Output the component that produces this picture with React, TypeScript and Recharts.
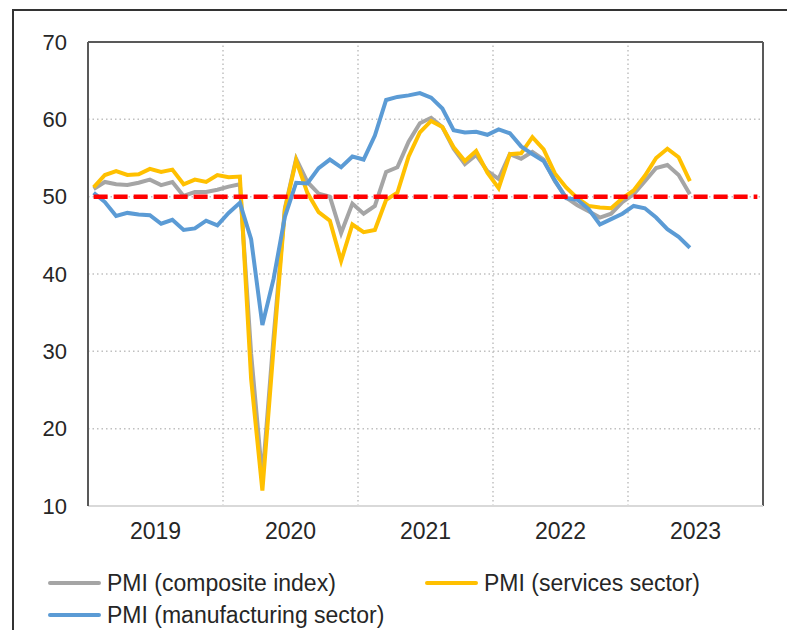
import React from 'react';
import {
  LineChart,
  Line,
  XAxis,
  YAxis,
  CartesianGrid,
  ReferenceLine,
  Legend,
} from 'recharts';

// Euro area PMI, monthly, Jan 2019 - Jun 2023
const years = ['2019', '2020', '2021', '2022', '2023'];

const composite = [
  51.0, 51.9, 51.6, 51.5, 51.8, 52.2, 51.5, 51.9, 50.1, 50.6, 50.6, 50.9,
  51.3, 51.6, 29.7, 13.6, 31.9, 48.5, 54.9, 51.9, 50.4, 50.0, 45.3, 49.1,
  47.8, 48.8, 53.2, 53.8, 57.1, 59.5, 60.2, 59.0, 56.2, 54.2, 55.4, 53.3,
  52.3, 55.5, 54.9, 55.8, 54.8, 52.0, 49.9, 48.9, 48.1, 47.3, 47.8, 49.3,
  50.3, 52.0, 53.7, 54.1, 52.8, 50.3,
];

const services = [
  51.2, 52.8, 53.3, 52.8, 52.9, 53.6, 53.2, 53.5, 51.6, 52.2, 51.9, 52.8,
  52.5, 52.6, 26.4, 12.0, 30.5, 48.3, 54.7, 50.5, 48.0, 46.9, 41.7, 46.4,
  45.4, 45.7, 49.6, 50.5, 55.2, 58.3, 59.8, 59.0, 56.4, 54.6, 55.9, 53.1,
  51.1, 55.5, 55.6, 57.7, 56.1, 53.0, 51.2, 49.8, 48.8, 48.6, 48.5, 49.8,
  50.8, 52.7, 55.0, 56.2, 55.1, 52.0,
];

const manufacturing = [
  50.5, 49.3, 47.5, 47.9, 47.7, 47.6, 46.5, 47.0, 45.7, 45.9, 46.9, 46.3,
  47.9, 49.2, 44.5, 33.4, 39.4, 47.4, 51.8, 51.7, 53.7, 54.8, 53.8, 55.2,
  54.8, 57.9, 62.5, 62.9, 63.1, 63.4, 62.8, 61.4, 58.6, 58.3, 58.4, 58.0,
  58.7, 58.2, 56.5, 55.5, 54.6, 52.1, 49.8, 49.6, 48.4, 46.4, 47.1, 47.8,
  48.8, 48.5, 47.3, 45.8, 44.8, 43.4,
];

const THRESHOLD = 50;
const yTicks = [10, 20, 30, 40, 50, 60, 70];

const series = [
  { key: 'composite', name: 'PMI (composite index)', color: '#a5a5a5' },
  { key: 'services', name: 'PMI (services sector)', color: '#ffc000' },
  { key: 'manufacturing', name: 'PMI (manufacturing sector)', color: '#5b9bd5' },
];

const rows = Array.from({ length: years.length * 12 }, (_, i) => ({
  x: i + 0.5,
  composite: composite[i] ?? null,
  services: services[i] ?? null,
  manufacturing: manufacturing[i] ?? null,
  threshold: THRESHOLD,
}));

const xMax = years.length * 12;
const yearCenters = years.map((_, k) => k * 12 + 6);
const yearBounds = years.slice(1).map((_, k) => (k + 1) * 12);

const FONT = '"Liberation Sans", Arial, sans-serif';
const TEXT = '#262626';
const FRAME = '#595959';
const GRID = '#c0c0c0';

const LegendBox = () => (
  <div
    style={{
      width: 787,
      display: 'grid',
      gridTemplateColumns: '377px auto',
      paddingLeft: 48,
      boxSizing: 'border-box',
      fontFamily: FONT,
      fontSize: 23,
      color: TEXT,
    }}
  >
    {series.map(s => (
      <div key={s.key} style={{ display: 'flex', alignItems: 'center', height: 32 }}>
        <span
          style={{
            display: 'inline-block',
            width: 53,
            height: 4,
            borderRadius: 2,
            background: s.color,
            marginRight: 6,
          }}
        />
        <span style={{ whiteSpace: 'nowrap' }}>{s.name}</span>
      </div>
    ))}
  </div>
);

const App: React.FC = () => {
  return (
    <div
      style={{
        position: 'absolute',
        left: 0,
        top: 0,
        width: 787,
        height: 630,
        overflow: 'hidden',
        background: '#fff',
      }}
    >
      <div
        style={{
          position: 'absolute',
          left: 12,
          top: 9,
          width: 900,
          height: 800,
          borderLeft: '2px solid #333',
          borderTop: '2px solid #333',
        }}
      />
      <LineChart
        width={787}
        height={630}
        data={rows}
        margin={{ top: 42, right: 24, bottom: 84, left: 0 }}
        style={{ position: 'absolute', left: 0, top: 0 }}
      >
        <CartesianGrid
          vertical={false}
          stroke={GRID}
          strokeWidth={1.5}
          strokeDasharray="1.5 3"
        />
        {yearBounds.map(b => (
          <ReferenceLine
            key={b}
            x={b}
            stroke={GRID}
            strokeWidth={1.5}
            strokeDasharray="1.5 3"
          />
        ))}
        {/* plot frame: top and right edges */}
        <ReferenceLine y={70} stroke={FRAME} strokeWidth={2} />
        <ReferenceLine x={xMax} stroke={FRAME} strokeWidth={2} />
        <XAxis
          dataKey="x"
          type="number"
          domain={[0, xMax]}
          ticks={yearCenters}
          tickFormatter={v => years[Math.floor(v / 12)]}
          height={40}
          tickSize={0}
          tickMargin={17}
          axisLine={{ stroke: '#d9d9d9', strokeWidth: 2 }}
          tick={{ fill: TEXT, fontSize: 23, fontFamily: FONT }}
          allowDataOverflow
        />
        <YAxis
          domain={[10, 70]}
          ticks={yTicks}
          width={88}
          tickSize={0}
          tickMargin={21}
          axisLine={{ stroke: FRAME, strokeWidth: 2 }}
          tick={{ fill: TEXT, fontSize: 22, fontFamily: FONT }}
        />
        {series.map(s => (
          <Line
            key={s.key}
            dataKey={s.key}
            name={s.name}
            stroke={s.color}
            strokeWidth={4}
            dot={false}
            activeDot={false}
            isAnimationActive={false}
          />
        ))}
        <Line
          dataKey="threshold"
          legendType="none"
          stroke="#ff0000"
          strokeWidth={4.5}
          strokeDasharray="14 6"
          dot={false}
          activeDot={false}
          isAnimationActive={false}
        />
        <Legend
          layout="vertical"
          align="center"
          verticalAlign="middle"
          content={() => <LegendBox />}
          wrapperStyle={{ left: 0, top: 567, width: 787 }}
        />
      </LineChart>
    </div>
  );
};

export default App;
